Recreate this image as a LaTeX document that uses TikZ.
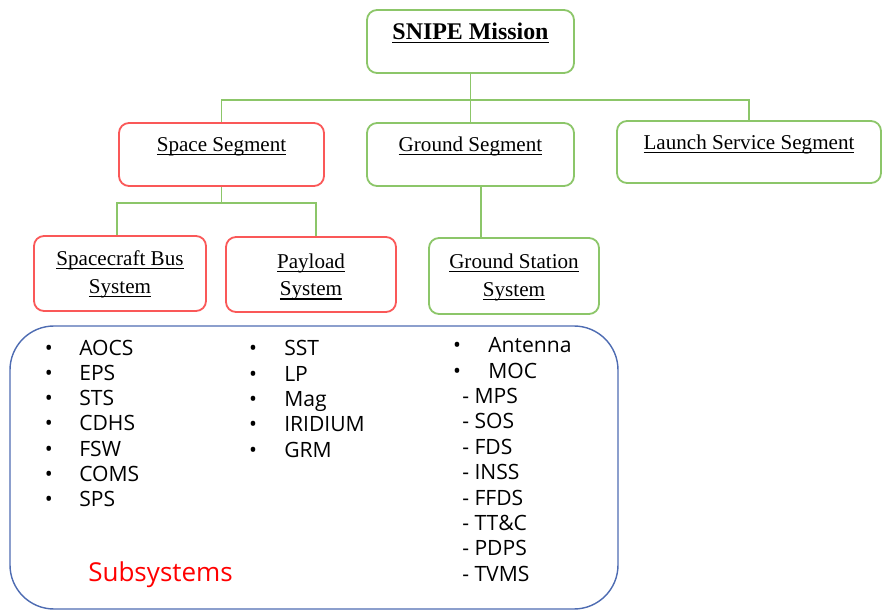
\documentclass[tikz,border=0pt]{standalone}
\usepackage{fontspec}
\setmainfont{Liberation Serif}
\newfontfamily\listfont{Open Sans}
\usepackage{xcolor}
\definecolor{segred}{RGB}{250,88,88}
\definecolor{seggreen}{RGB}{140,198,105}
\definecolor{panelblue}{RGB}{78,108,178}
\definecolor{subred}{RGB}{255,0,0}
\usepackage{tikz}
\usetikzlibrary{
    positioning,
    fit,
    calc
}
\newcommand{\udl}[1]{\setbox0\hbox{#1}\rlap{\rule[-2.6pt]{\wd0}{0.75pt}}\box0}

\begin{document}
\begin{tikzpicture}[
        x=0.025cm, y=-0.025cm,
        segbox/.style={rectangle, rounded corners=0.25cm, draw=#1, line width=1.3pt, inner sep=0pt},
        boxtext/.style={font=\fontsize{15}{19.8}\selectfont, align=center, inner sep=0pt},
        link/.style={seggreen, line width=1pt},
        item/.style={font=\listfont\fontsize{15}{18}\selectfont, anchor=base west, inner sep=0pt},
        dot/.style={item, anchor=base}
    ]
        \useasboundingbox (0,0) rectangle (884,611);

        % boxes
        \node[segbox=seggreen, fit={(367,10) (574,73)}] (mission) {};
        \node[segbox=segred, fit={(119,123) (324,186)}] (space) {};
        \node[segbox=seggreen, fit={(367,123) (574,186)}] (ground) {};
        \node[segbox=seggreen, fit={(617,121) (881,183)}] (launch) {};
        \node[segbox=segred, fit={(34,236) (206,311)}] (scbus) {};
        \node[segbox=segred, fit={(226,237) (396,312)}] (payload) {};
        \node[segbox=seggreen, fit={(429,238) (599,314)}] (station) {};

        \node[boxtext, font=\bfseries\fontsize{17}{20}\selectfont, anchor=base] (missionlbl) at (470.5,39.3) {\udl{SNIPE Mission}};
        \node[boxtext, anchor=base] (spacelbl) at (221.5,151.7) {\udl{Space Segment}};
        \node[boxtext, anchor=base] (groundlbl) at (470.5,151.7) {\udl{Ground Segment}};
        \node[boxtext, anchor=base] (launchlbl) at (749,149.3) {\udl{Launch Service Segment}};
        \node[boxtext] (scbuslbl) at (120,274.6) {\udl{Spacecraft Bus}\\\udl{System}};
        \node[boxtext] (payloadlbl) at (311,276.9) {\udl{Payload}\\\udl{System}};
        \node[boxtext] (stationlbl) at (514,277.2) {\udl{Ground Station}\\\udl{System}};

        % tree lines
        \coordinate (topbar) at (470.5,100);
        \draw[link] (mission.south) -- (topbar);
        \draw[link] (topbar) -| (space.north);
        \draw[link] (topbar) -- (ground.north);
        \draw[link] (topbar) -| (launch.north);
        \coordinate (spacebar) at (221.5,203);
        \draw[link] (space.south) -- (spacebar);
        \draw[link] (spacebar) -| ($(scbus.north)+(-3,0)$);
        \draw[link] (spacebar) -| ($(payload.north)+(5,0)$);
        \coordinate (gsx) at (481,0);
        \draw[link] (ground.south -| gsx) -- (station.north -| gsx);

        % subsystem panel
        \node[draw=panelblue, line width=1pt, rounded corners=1.1cm, inner sep=0pt, fit={(10,326) (618,609)}] (panel) {};

        \foreach \name [count=\i] in {AOCS,EPS,STS,CDHS,FSW,COMS,SPS} {
            \node[dot] (busdot-\i) at (48.8,{355+25.3*(\i-1)}) {•};
            \node[item] (bus-\i) at (79,{355+25.3*(\i-1)}) {\name};
        }
        \foreach \name [count=\i] in {SST,LP,Mag,IRIDIUM,GRM} {
            \node[dot] (pldot-\i) at (253,{355.7+25.4*(\i-1)}) {•};
            \node[item] (pl-\i) at (284,{355.7+25.4*(\i-1)}) {\name};
        }
        \foreach \name [count=\i] in {Antenna,MOC} {
            \node[dot] (gsdot-\i) at (457,{352.7+25.4*(\i-1)}) {•};
            \node[item] (gs-\i) at (488,{352.7+25.4*(\i-1)}) {\name};
        }
        \foreach \name [count=\i] in {MPS,SOS,FDS,INSS,FFDS,TT\&C,PDPS,TVMS} {
            \node[item] (moc-\i) at (462,{403.5+25.4*(\i-1)}) {- \name};
        }

        \node[item, font=\listfont\fontsize{18.5}{22}\selectfont, text=subred] (sublbl) at (88,581.7) {Subsystems};
    \end{tikzpicture}
\end{document}
